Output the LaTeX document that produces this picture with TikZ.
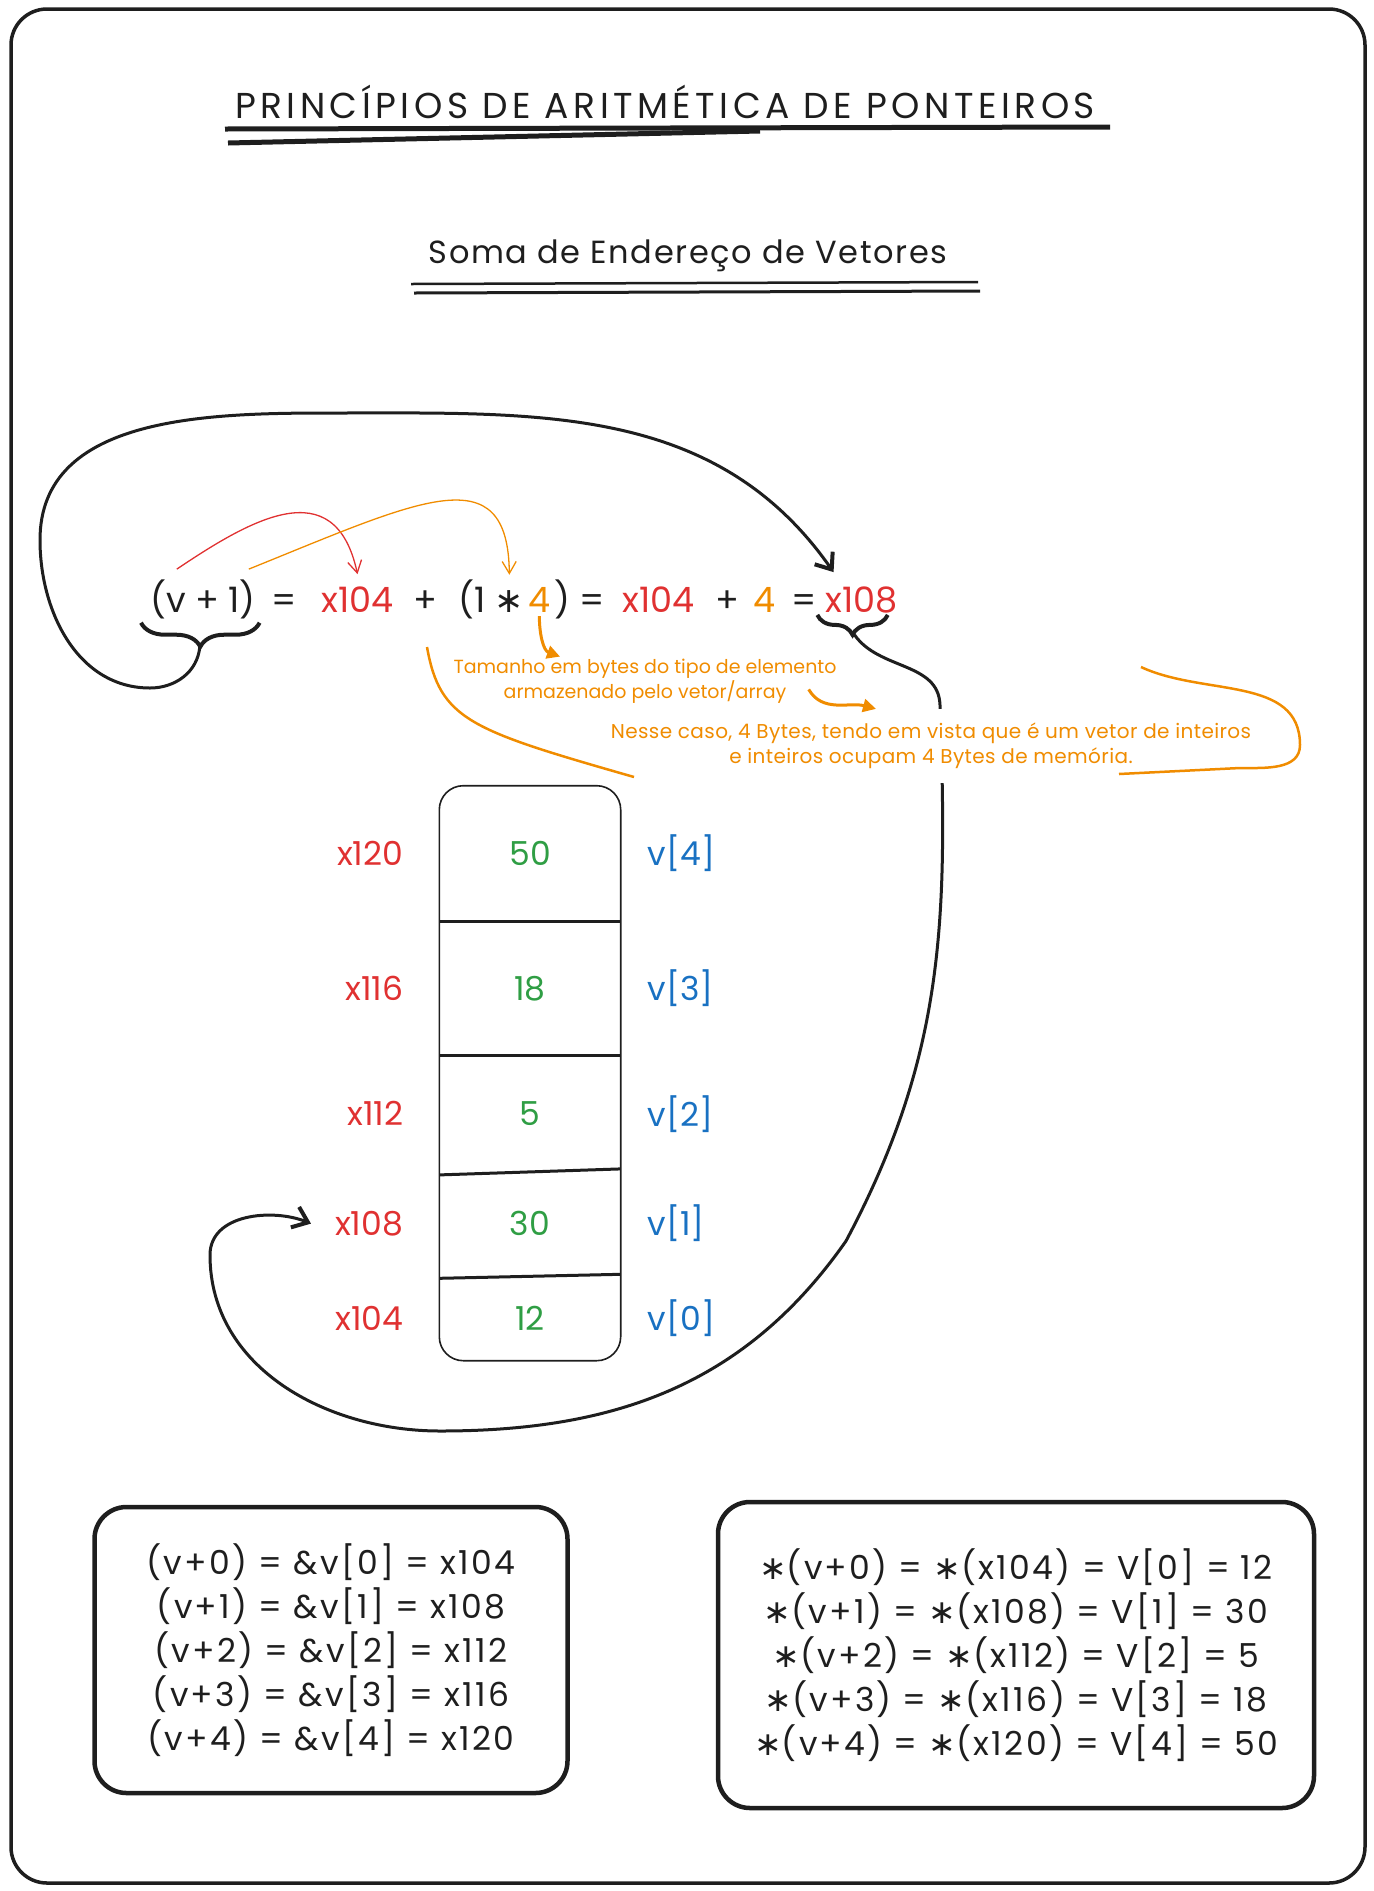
\documentclass[tikz,border=0pt]{standalone}
\usepackage{fontspec}
\setmainfont{Poppins}
\newfontfamily\simbolo{DejaVu Sans}
\newcommand\vezes{{\simbolo ∗}}
\usetikzlibrary{positioning, arrows.meta, decorations.pathreplacing}
\pgfdeclarelayer{fundo}
\pgfsetlayers{fundo,main}
\definecolor{tinta}{HTML}{1E1E1E}
\definecolor{verm}{HTML}{E03131}
\definecolor{laranja}{HTML}{F08C00}
\definecolor{verde}{HTML}{2F9E44}
\definecolor{azul}{HTML}{1971C2}
\tikzset{
  eq1/.style = {
    inner sep = 0pt,
    text = tinta,
    font = \fontsize{35}{40}\selectfont,
  }
}
\tikzset{
  celula1/.style = {
    shape = rectangle,
    minimum width = 181pt,
    inner sep = 0pt,
    text = verde,
    font = \fontsize{33}{38}\selectfont,
  }
}
\tikzset{
  ende1/.style = {
    inner sep = 0pt,
    text = verm,
    font = \fontsize{33}{38}\selectfont,
  }
}
\tikzset{
  indice1/.style = {
    inner sep = 0pt,
    text = azul,
    font = \fontsize{33}{38}\selectfont,
  }
}
\tikzset{
  nota1/.style = {
    inner sep = 2pt,
    align = center,
    text = laranja,
    font = \fontsize{19}{25}\selectfont,
  }
}
\tikzset{
  caixa1/.style = {
    shape = rectangle,
    draw = tinta,
    line width = 4.5pt,
    rounded corners = 32pt,
    align = center,
    text = tinta,
    font = \fontsize{33}{44}\selectfont\addfontfeatures{LetterSpace = 7},
  }
}
\tikzset{
  chave1/.style = {
    draw = tinta, line width = 4pt, decorate,
  }
}
\tikzset{
  seta1/.style = {
    line width = 1.3pt, -{Straight Barb[length = 12pt, width = 14pt]},
  }
}
\tikzset{
  seta2/.style = {
    draw = tinta, line width = 3pt, -{Straight Barb[length = 14pt, width = 22pt, line width = 4pt]},
  }
}
\tikzset{
  seta3/.style = {
    draw = laranja, line width = 3pt, -{Triangle[length = 13pt, width = 13pt]},
  }
}

\begin{document}
\begin{tikzpicture}[x = 1pt, y = -1pt]
        \useasboundingbox (0,0) rectangle (1374,1891);
        \draw[tinta, line width = 3.5pt, rounded corners = 36pt] (11,9) rectangle (1365,1883);

        % titulos
        \node[text = tinta, font = \fontsize{36}{40}\selectfont\addfontfeatures{LetterSpace = 12.5}](tit) at (665,102){PRINCÍPIOS DE ARITMÉTICA DE PONTEIROS};
        \draw[tinta, line width = 5pt] (225,129) -- (1110,127);
        \draw[tinta, line width = 5pt] (228,143) -- (760,131);
        \node[text = tinta, font = \fontsize{32}{36}\selectfont\addfontfeatures{LetterSpace = 5}](sub) at (688,256){Soma de Endereço de Vetores};
        \draw[tinta, line width = 2.5pt] (411,284) -- (978,282);
        \draw[tinta, line width = 3pt] (414,293) -- (980,291);

        % equacao
        \node[eq1, anchor = base west](e1) at (150,612){(v + 1)};
        \node[eq1, base right = 16pt of e1](e2){=};
        \node[eq1, base right = 24pt of e2, text = verm](e3){x104};
        \node[eq1, base right = 20pt of e3](e4){+};
        \node[eq1, base right = 20pt of e4](e5){(1 \vezes};
        \node[eq1, base right = 4pt of e5, text = laranja](e6){4};
        \node[eq1, base right = 4pt of e6](e7){)};
        \node[eq1, base right = 8pt of e7](e8){=};
        \node[eq1, base right = 18pt of e8, text = verm](e9){x104};
        \node[eq1, base right = 20pt of e9](e10){+};
        \node[eq1, base right = 14pt of e10, text = laranja](e11){4};
        \node[eq1, base right = 16pt of e11](e12){=};
        \node[eq1, base right = 8pt of e12, text = verm](e13){x108};

        \draw[chave1, decoration = {brace, mirror, amplitude = 24pt}] ([shift = {(-9pt, -4pt)}]e1.south west) -- ([shift = {(4pt, -4pt)}]e1.south east);
        \coordinate (t1) at ([shift = {(-3pt, -28pt)}]e1.south);
        \draw[chave1, decoration = {brace, mirror, amplitude = 20pt}] ([shift = {(-8pt, -2pt)}]e13.south west) -- ([shift = {(-10pt, -2pt)}]e13.south east);
        \coordinate (t2) at ([shift = {(-7pt, -22pt)}]e13.south);

        % notas
        \node[nota1](tam) at (645,681){Tamanho em bytes do tipo de elemento\\armazenado pelo vetor/array};
        \node[nota1, fill = white, inner ysep = 14pt, font = \fontsize{20}{25}\selectfont\addfontfeatures{LetterSpace = 2}](nes) at (931,746){Nesse caso, 4 Bytes, tendo em vista que é um vetor de inteiros\\e inteiros ocupam 4 Bytes de memória.};

        % vetor
        \node[celula1, minimum height = 85pt](c0) at (530,1318){12};
        \node[celula1, minimum height = 103pt, above = 0pt of c0](c1){30};
        \node[celula1, minimum height = 116pt, above = 0pt of c1](c2){5};
        \node[celula1, minimum height = 134pt, above = 0pt of c2](c3){18};
        \node[celula1, minimum height = 135pt, above = 0pt of c3](c4){50};
        \draw[tinta, line width = 1.6pt, rounded corners = 24pt] (c4.north west) rectangle (c0.south east);
        \draw[tinta, line width = 3pt] ([yshift = -3pt]c0.north west) -- ([yshift = 1pt]c0.north east);
        \draw[tinta, line width = 3pt] ([yshift = -3pt]c1.north west) -- ([yshift = 3pt]c1.north east);
        \draw[tinta, line width = 3pt] (c2.north west) -- (c2.north east);
        \draw[tinta, line width = 3pt] (c3.north west) -- (c3.north east);

        \node[ende1, left = 36pt of c4](m120){x120};
        \node[ende1, left = 36pt of c3](m116){x116};
        \node[ende1, left = 36pt of c2](m112){x112};
        \node[ende1, left = 36pt of c1](m108){x108};
        \node[ende1, left = 36pt of c0](m104){x104};
        \node[indice1, right = 27pt of c4](v4){v[4]};
        \node[indice1, right = 27pt of c3](v3){v[3]};
        \node[indice1, right = 27pt of c2](v2){v[2]};
        \node[indice1, right = 27pt of c1](v1){v[1]};
        \node[indice1, right = 27pt of c0](v0){v[0]};

        % quadros
        \node[caixa1, minimum width = 473pt, minimum height = 286pt](q1) at (331,1650){(v+0) = \&v[0] = x104\\(v+1) = \&v[1] = x108\\(v+2) = \&v[2] = x112\\(v+3) = \&v[3] = x116\\(v+4) = \&v[4] = x120};
        \node[caixa1, minimum width = 596pt, minimum height = 306pt](q2) at (1016,1655){\vezes(v+0) = \vezes(x104) = V[0] = 12\\\vezes(v+1) = \vezes(x108) = V[1] = 30\\\vezes(v+2) = \vezes(x112) = V[2] = 5\\\vezes(v+3) = \vezes(x116) = V[3] = 18\\\vezes(v+4) = \vezes(x120) = V[4] = 50};

        % setas
        \draw[seta1, verm] ([shift = {(-26pt, 10pt)}]e1.north) .. controls (250,520) and (335,470) .. ([yshift = 12pt]e3.north);
        \draw[seta1, laranja] ([shift = {(46pt, 10pt)}]e1.north) .. controls (420,500) and (508,455) .. ([shift = {(-30pt, 12pt)}]e6.north);
        \draw[seta2] (t1) to[out = -95, in = 0] (150,688) to[out = 180, in = -90] (40,540) to[out = 90, in = 180] (335,413) to[out = 0, in = 125] ([shift = {(-28pt, 14pt)}]e13.north);
        \begin{pgfonlayer}{fundo}
        \draw[seta2] (t2) to[out = -55, in = 92] (940,705) to[out = -88, in = 62] (846,1241) to[out = -125, in = 0] (440,1431) to[out = 180, in = -90] (210,1255) to[out = 90, in = 158] ([xshift = -24pt]m108.west);
        \end{pgfonlayer}
        \draw[seta3] ([yshift = -4pt]e6.south) to[out = -90, in = 160] ([xshift = -85pt]tam.north);
        \draw[seta3] ([shift = {(-30pt, 16pt)}]tam.south east) to[out = -60, in = 165] ([xshift = -55pt]nes.north);

        % colchetes
        \draw[laranja, line width = 2.5pt] (427,647) .. controls (440,720) and (470,730) .. (634,777);
        \draw[laranja, line width = 2.5pt] (1141,667) to[out = -25, in = 90] (1300,745) to[out = -90, in = 0] (1240,768) -- (1119,774);
    \end{tikzpicture}
\end{document}
